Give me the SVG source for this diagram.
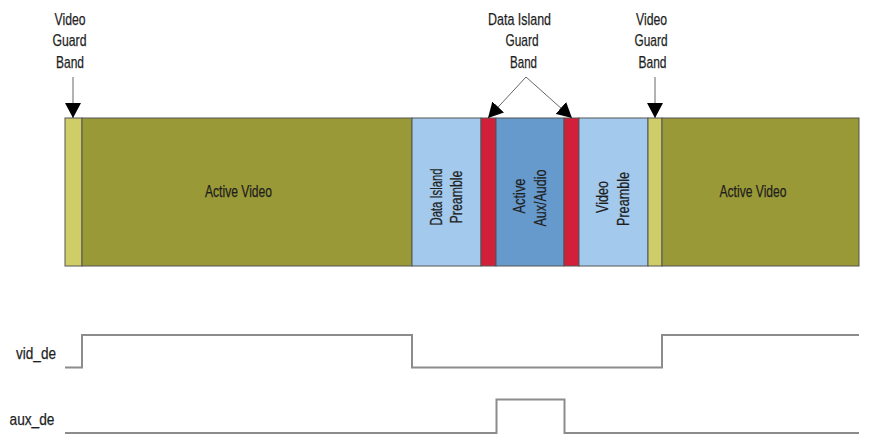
<svg xmlns="http://www.w3.org/2000/svg" width="889" height="445" viewBox="0 0 889 445">
<style>
.t{font-family:"Liberation Sans",Arial,sans-serif;font-size:17px;fill:#1e1e1e;text-anchor:middle;stroke:#1e1e1e;stroke-width:0.25}
.seg{stroke:#555;stroke-width:1}
.gb{fill:#cfcd68}
.av{fill:#9a9937}
.pre{fill:#a3caec}
.red{fill:#d21f3a}
.aux{fill:#6699cc}
.ar{stroke:#666;stroke-width:1;fill:none}
.sig{stroke:#8c8c8c;stroke-width:2;fill:none}
</style>
<defs>
<marker id="ah" markerUnits="userSpaceOnUse" markerWidth="15" markerHeight="16" refX="15" refY="8" orient="auto" viewBox="0 0 15 16">
<path d="M0,0 L15,8 L0,16 z" fill="#000"/>
</marker>
</defs>
<g id="bar">
<rect id="guard1" class="seg gb" x="65" y="118" width="17" height="148"/>
<g id="activeVideo1"><rect class="seg av" x="82" y="118" width="330" height="148"/>
<text class="t" x="238.5" y="197" textLength="67" lengthAdjust="spacingAndGlyphs">Active Video</text></g>
<g id="diPreamble"><rect class="seg pre" x="412" y="118" width="69" height="148"/>
<text class="t" transform="translate(442,197) rotate(-90)" x="0" y="0" textLength="57" lengthAdjust="spacingAndGlyphs">Data Island</text>
<text class="t" transform="translate(462,197) rotate(-90)" x="0" y="0" textLength="53" lengthAdjust="spacingAndGlyphs">Preamble</text></g>
<rect id="diGuard1" class="seg red" x="481" y="118" width="15" height="148"/>
<g id="activeAux"><rect class="seg aux" x="496" y="118" width="68" height="148"/>
<text class="t" transform="translate(525,196) rotate(-90)" x="0" y="0" textLength="35" lengthAdjust="spacingAndGlyphs">Active</text>
<text class="t" transform="translate(546,198) rotate(-90)" x="0" y="0" textLength="57" lengthAdjust="spacingAndGlyphs">Aux/Audio</text></g>
<rect id="diGuard2" class="seg red" x="564" y="118" width="15" height="148"/>
<g id="vidPreamble"><rect class="seg pre" x="579" y="118" width="69" height="148"/>
<text class="t" transform="translate(608,197) rotate(-90)" x="0" y="0" textLength="32" lengthAdjust="spacingAndGlyphs">Video</text>
<text class="t" transform="translate(629,199) rotate(-90)" x="0" y="0" textLength="54" lengthAdjust="spacingAndGlyphs">Preamble</text></g>
<rect id="guard2" class="seg gb" x="648" y="118" width="14" height="148"/>
<g id="activeVideo2"><rect class="seg av" x="662" y="118" width="197" height="148"/>
<text class="t" x="753" y="197" textLength="67" lengthAdjust="spacingAndGlyphs">Active Video</text></g>
</g>
<g id="label-vgb1">
<text class="t" x="70" y="24.5" textLength="31" lengthAdjust="spacingAndGlyphs">Video</text>
<text class="t" x="69.5" y="46" textLength="34" lengthAdjust="spacingAndGlyphs">Guard</text>
<text class="t" x="70" y="67.5" textLength="28" lengthAdjust="spacingAndGlyphs">Band</text>
</g>
<g id="label-digb">
<text class="t" x="519.5" y="24.5" textLength="63" lengthAdjust="spacingAndGlyphs">Data Island</text>
<text class="t" x="522" y="46" textLength="33" lengthAdjust="spacingAndGlyphs">Guard</text>
<text class="t" x="523.5" y="67.5" textLength="27" lengthAdjust="spacingAndGlyphs">Band</text>
</g>
<g id="label-vgb2">
<text class="t" x="651.5" y="24.5" textLength="31" lengthAdjust="spacingAndGlyphs">Video</text>
<text class="t" x="651" y="46" textLength="33" lengthAdjust="spacingAndGlyphs">Guard</text>
<text class="t" x="652.5" y="67.5" textLength="28" lengthAdjust="spacingAndGlyphs">Band</text>
</g>
<g id="signal-labels">
<text class="t" style="text-anchor:end" x="56" y="358.5" textLength="40" lengthAdjust="spacingAndGlyphs">vid_de</text>
<text class="t" style="text-anchor:end" x="54.5" y="424.5" textLength="45" lengthAdjust="spacingAndGlyphs">aux_de</text>
</g>
<g id="connectors">
<line class="ar" x1="73" y1="77" x2="73" y2="118" marker-end="url(#ah)"/>
<line class="ar" x1="526" y1="77" x2="488" y2="118" marker-end="url(#ah)"/>
<line class="ar" x1="526" y1="77" x2="572" y2="118" marker-end="url(#ah)"/>
<line class="ar" x1="655" y1="77" x2="655" y2="118" marker-end="url(#ah)"/>
</g>
<g id="waveforms">
<polyline class="sig" points="65,367.5 82,367.5 82,335 412,335 412,367.5 662,367.5 662,335 859,335"/>
<polyline class="sig" points="65,433 496.5,433 496.5,399.5 564.5,399.5 564.5,433 859,433"/>
</g>
</svg>
